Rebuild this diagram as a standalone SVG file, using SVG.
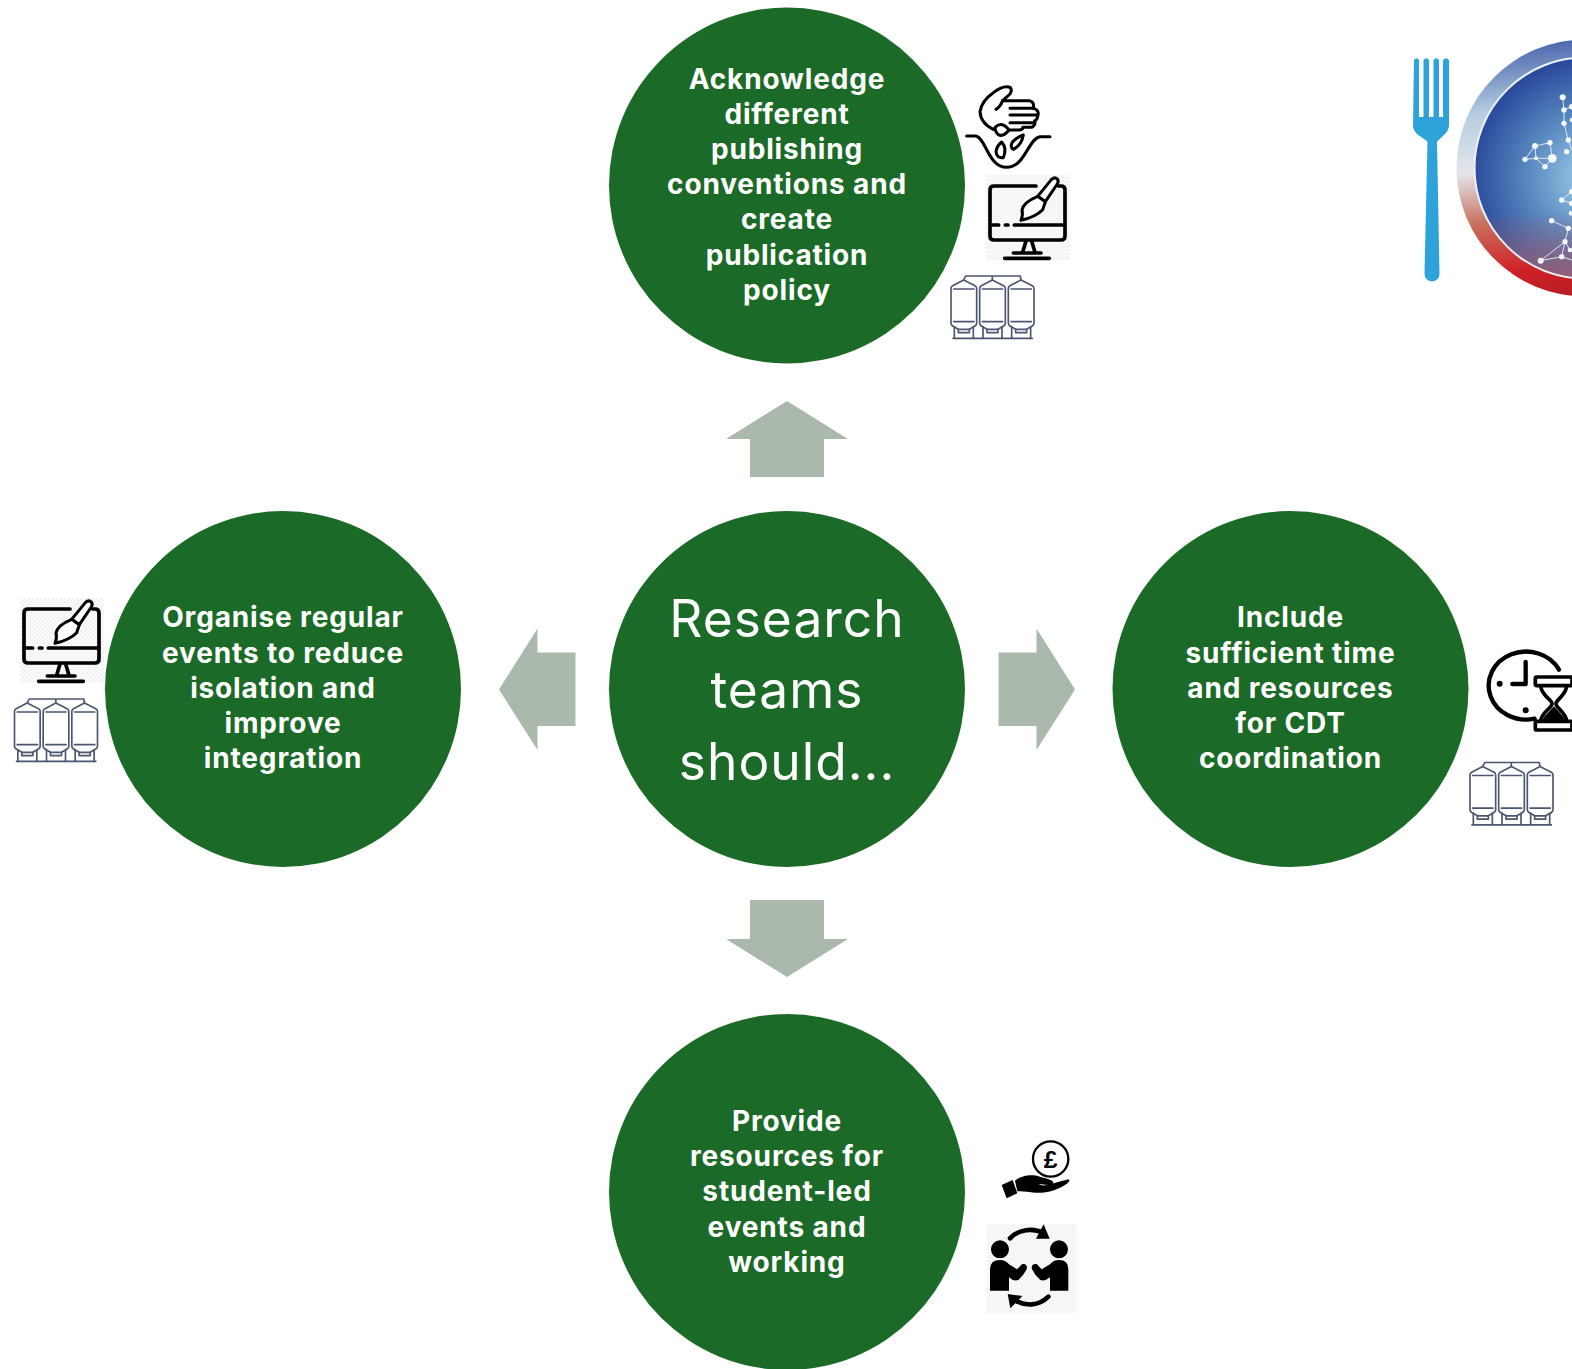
<svg xmlns="http://www.w3.org/2000/svg" xmlns:xlink="http://www.w3.org/1999/xlink" width="1572" height="1369" viewBox="0 0 1572 1369">
<style>
.c{fill:#1b6a27}
.a{fill:#abb9ac}
.t{font-family:Inter,"Open Sans",sans-serif;font-weight:700;font-size:28px;letter-spacing:.85px;fill:#fff;text-anchor:middle}
.m{font-family:Inter,"Open Sans",sans-serif;font-weight:400;font-size:51.500px;letter-spacing:1px;fill:#fff;text-anchor:middle}
.k{fill:none;stroke:#000;stroke-linecap:round;stroke-linejoin:round}
.s{fill:none;stroke:#4c5670;stroke-width:5;stroke-linejoin:round;stroke-linecap:round}
.n{fill:#f4f8fc}
.l{fill:none;stroke:#dbe7f4;stroke-width:3}
</style>
<defs>
<pattern id="chk" width="12" height="12" patternUnits="userSpaceOnUse"><rect width="12" height="12" fill="#fbfbfb"/><rect width="6" height="6" fill="#f2f2f2"/><rect x="6" y="6" width="6" height="6" fill="#f2f2f2"/></pattern>
<radialGradient id="plate" gradientUnits="userSpaceOnUse" cx="1590" cy="177" r="118"><stop offset="0" stop-color="#a2d0ea"/><stop offset=".5" stop-color="#5c8cc2"/><stop offset="1" stop-color="#2a4a9c"/></radialGradient>
<linearGradient id="dusk" x1="0" y1="0" x2="0" y2="1"><stop offset=".7" stop-color="#a8606e" stop-opacity="0"/><stop offset="1" stop-color="#a8606e" stop-opacity=".85"/></linearGradient>
<linearGradient id="ring" x1="0.4" y1="0" x2="0.5" y2="1"><stop offset="0" stop-color="#4a66ac"/><stop offset=".25" stop-color="#b4cce0"/><stop offset=".48" stop-color="#e4e6ea"/><stop offset=".68" stop-color="#c8705e"/><stop offset=".88" stop-color="#cf1f26"/><stop offset="1" stop-color="#b42024"/></linearGradient>
<filter id="soft" x="-5%" y="-5%" width="110%" height="110%"><feGaussianBlur stdDeviation=".5"/></filter>
<g id="silo1" class="s"><path d="M38,15L72,32Q77,35 77,40V145Q77,150 72,153L55,163H22L5,153Q0,150 0,145V40Q0,35 5,32Z"/><path d="M8,42H69M8,140H69M22,163V173H55V163M10,155V190M67,155V190"/></g>
<g id="silo"><use xlink:href="#silo1" href="#silo1"/><use xlink:href="#silo1" href="#silo1" x="86"/><use xlink:href="#silo1" href="#silo1" x="172"/><path class="s" d="M38,15L44,3H208L210,15M124,15V3M6,190H244"/></g>
<g id="monitor"><rect width="252" height="255" fill="url(#chk)"/><g class="k" stroke-width="11"><path d="M150,33H24Q12,33 12,45V183Q12,195 24,195H225Q237,195 237,183V45Q237,33 225,33H218"/><path d="M18,150H38M58,150H66M85,150H235M120,198L110,232M137,198L147,232M82,234H165M56,250H190"/><path stroke-width="9" fill="#fff" d="M196,14Q206,4 214,12Q220,20 212,30L178,80L155,64Z"/><path stroke-width="9" fill="#fff" d="M155,64L178,80L170,104Q150,125 105,136Q112,120 108,105Q112,82 155,64Z"/></g></g>
</defs>
<rect width="1572" height="1369" fill="#fff"/>
<g id="connectors">
<polygon class="a" points="787,401 848,439 824,439 824,477 750,477 750,439 726,439"/>
<polygon class="a" points="998.500,652.500 1036.500,652.500 1036.500,628.500 1075,689.500 1036.500,750 1036.500,726 998.500,726"/>
<polygon class="a" points="575.500,652.500 537.500,652.500 537.500,628.500 499,689.500 537.500,750 537.500,726 575.500,726"/>
<polygon class="a" points="750,900 824,900 824,939 848,939 787,977 726,939 750,939"/>
</g>
<g id="node-centre"><circle class="c" cx="787" cy="689" r="178"/><text class="m"><tspan x="787" y="637">Research</tspan><tspan x="787" y="708">teams</tspan><tspan x="787" y="779.500">should...</tspan></text></g>
<g id="node-top"><circle class="c" cx="787" cy="185.500" r="178"/><text class="t"><tspan x="787" y="89">Acknowledge</tspan><tspan x="787" y="124">different</tspan><tspan x="787" y="159">publishing</tspan><tspan x="787" y="194">conventions and</tspan><tspan x="787" y="229">create</tspan><tspan x="787" y="264.500">publication</tspan><tspan x="787" y="299.500">policy</tspan></text></g>
<g id="node-left"><circle class="c" cx="283" cy="689" r="178"/><text class="t"><tspan x="283" y="627">Organise regular</tspan><tspan x="283" y="663">events to reduce</tspan><tspan x="283" y="698">isolation and</tspan><tspan x="283" y="733">improve</tspan><tspan x="283" y="768">integration</tspan></text></g>
<g id="node-right"><circle class="c" cx="1290.500" cy="689" r="178"/><text class="t"><tspan x="1290.500" y="627">Include</tspan><tspan x="1290.500" y="663">sufficient time</tspan><tspan x="1290.500" y="698">and resources</tspan><tspan x="1290.500" y="733">for CDT</tspan><tspan x="1290.500" y="768">coordination</tspan></text></g>
<g id="node-bottom"><circle class="c" cx="787" cy="1192" r="178"/><text class="t"><tspan x="787" y="1131">Provide</tspan><tspan x="787" y="1166">resources for</tspan><tspan x="787" y="1201">student-led</tspan><tspan x="787" y="1237">events and</tspan><tspan x="787" y="1272">working</tspan></text></g>
<g id="icon-seeds" transform="translate(960,80) scale(.3333)"><g class="k" stroke-width="9">
<path d="M20,168H48C78,175 85,262 140,262C195,262 205,175 240,170H270"/>
<path d="M150,22Q158,30 150,42L128,62H208Q224,66 220,85Q238,90 234,105Q232,120 224,122Q228,135 215,142H188Q190,150 176,150H150"/>
<path d="M150,22Q130,15 100,38Q65,62 60,95Q62,130 100,148"/>
<path d="M128,62Q120,82 108,88M150,85H222M150,105H232M150,128H222"/>
<path d="M105,142Q128,122 147,150Q130,172 115,164Q105,156 105,142Z"/><path d="M125,186Q142,205 130,233Q110,236 108,215Q110,198 125,186Z"/><path d="M190,165Q185,195 160,208Q148,200 158,185Q170,172 190,165Z"/>
</g></g>
<use id="icon-monitor-top" href="#monitor" xlink:href="#monitor" transform="translate(986,175) scale(.3333)"/>
<use id="icon-silo-top" href="#silo" xlink:href="#silo" transform="translate(951,275) scale(.3333)"/>
<use id="icon-monitor-left" href="#monitor" xlink:href="#monitor" transform="translate(20,598) scale(.3333)"/>
<use id="icon-silo-left" href="#silo" xlink:href="#silo" transform="translate(14.500,698) scale(.3333)"/>
<use id="icon-silo-right" href="#silo" xlink:href="#silo" transform="translate(1470,761.500) scale(.3333)"/>
<g id="icon-clock" transform="translate(1478,638) scale(.3333)"><g class="k" stroke-width="13">
<path d="M243,95A112,102 0 1 0 170,242"/><path d="M143,72V138H103"/>
<rect x="172" y="117" width="110" height="26" rx="4" stroke-width="11"/><rect x="172" y="250" width="110" height="26" rx="4" stroke-width="11"/>
<path d="M188,145C192,175 222,185 222,197C222,210 192,222 188,248M266,145C262,175 234,185 234,197C234,210 262,222 266,248" stroke-width="11"/></g>
<circle cx="65" cy="137" r="9"/><circle cx="143" cy="217" r="9"/><path d="M228,205L255,235L262,248H192L200,235Z"/></g>
<g id="icon-money" transform="translate(985,1130) scale(.3333)"><circle cx="197" cy="87" r="53" fill="none" stroke="#000" stroke-width="7"/>
<text x="197" y="113" font-family="Liberation Sans,sans-serif" font-size="74" font-weight="700" text-anchor="middle" fill="#000">£</text>
<path d="M50,165L83,150L97,190L65,205Z"/>
<path d="M90,152C110,135 140,132 165,140C185,145 205,150 205,158C205,165 175,165 160,163C180,172 200,160 250,148C258,150 250,160 235,168C210,182 185,190 150,188C130,186 110,182 97,184Z"/></g>
<g id="icon-exchange" transform="translate(985,1130) scale(.3333)"><rect x="5" y="283" width="267" height="267" fill="url(#chk)"/>
<circle cx="45" cy="358" r="27"/><circle cx="222" cy="358" r="27"/>
<path d="M15,482V418Q15,390 45,390Q62,390 72,403L96,418L112,402Q126,400 126,414Q120,432 100,450Q85,455 72,442V482Z"/>
<path d="M250,482V418Q250,390 222,390Q205,390 195,403L170,418L155,402Q140,400 140,414Q146,432 166,450Q180,455 195,442V482Z"/>
<g class="k" stroke-width="14"><path d="M75,325C100,298 145,292 176,310"/><path d="M190,500C160,530 120,528 92,512"/></g>
<path d="M176,283L194,326L153,326Z"/><path d="M68,492L112,498L76,535Z"/></g>
<g id="icon-fork"><path fill="#2ea3da" d="M1414,60Q1416.500,56.500 1419,60V117H1423.500V60Q1426,56.500 1429,60V117H1433.500V60Q1436,56.500 1439,60V117H1443V60Q1446,56.500 1449,60V125Q1449,130 1445,134L1437,141.500L1439.500,274Q1439,281 1432,281.500Q1425,281 1424.500,274L1427.500,141.500L1417,134Q1413,130 1413,125Z"/></g>
<g id="icon-plate">
<circle cx="1585" cy="168" r="128.500" fill="url(#ring)"/>
<circle cx="1585" cy="168" r="110.500" fill="url(#plate)" stroke="#eef2f6" stroke-width="2"/>
<circle cx="1585" cy="168" r="109.500" fill="url(#dusk)"/>
<g transform="translate(1500,60) scale(.3333)" filter="url(#soft)">
<path class="l" d="M75,298L105,258L150,248L157,295L135,320L108,295L75,298M105,258L108,295M157,295H108M188,112L192,150L215,140M192,150L192,190L205,240L215,270M215,395L185,420L215,430M155,482L205,505L195,545L210,570M122,602L185,590L195,545M122,602L195,545M185,590L215,600"/>
<g class="n"><circle cx="75" cy="298" r="8"/><circle cx="105" cy="258" r="9"/><circle cx="150" cy="248" r="8"/><circle cx="108" cy="295" r="6"/><circle cx="157" cy="295" r="13"/><circle cx="135" cy="320" r="8"/><circle cx="188" cy="112" r="9"/><circle cx="192" cy="150" r="8"/><circle cx="215" cy="140" r="8"/><circle cx="192" cy="190" r="8"/><circle cx="216" cy="180" r="7"/><circle cx="205" cy="240" r="8"/><circle cx="200" cy="275" r="8"/><circle cx="215" cy="395" r="8"/><circle cx="185" cy="420" r="8"/><circle cx="215" cy="430" r="8"/><circle cx="155" cy="482" r="8"/><circle cx="205" cy="505" r="8"/><circle cx="213" cy="460" r="7"/><circle cx="195" cy="545" r="8"/><circle cx="210" cy="570" r="7"/><circle cx="122" cy="602" r="9"/><circle cx="185" cy="590" r="8"/></g>
</g>
</g>
</svg>
